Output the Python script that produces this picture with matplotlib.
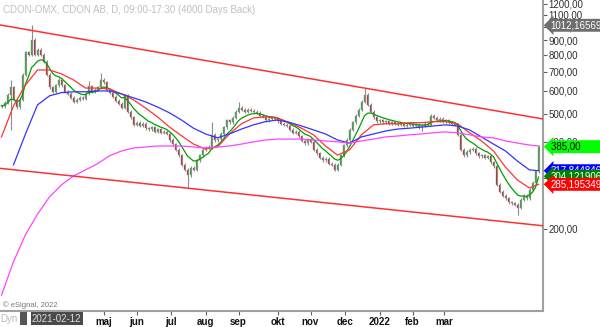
import matplotlib
matplotlib.use('Agg')
import matplotlib.pyplot as plt
import matplotlib.transforms as mtransforms
from matplotlib.patches import Rectangle
from matplotlib.ticker import FixedLocator, FixedFormatter, NullLocator
import numpy as np
import pandas as pd

plt.rcParams['font.family'] = ['Liberation Sans', 'DejaVu Sans']

title = 'CDON-OMX, CDON AB, D, 09:00-17:30 (4000 Days Back)'

# daily closes (one entry per bar)
closes = [532, 546, 581, 617, 559, 528, 559, 682, 818, 799,
          901, 799, 832, 799, 756, 682, 617, 596, 629, 655,
          629, 596, 586, 568, 550, 559, 568, 563, 586, 624,
          596, 605, 617, 655, 643, 605, 592, 572, 554, 541,
          524, 577, 508, 486, 458, 466, 454, 462, 446, 442,
          450, 434, 442, 430, 434, 426, 406, 393, 375, 360,
          333, 320, 307, 325, 320, 346, 360, 375, 381, 384,
          423, 406, 409, 426, 450, 476, 467, 484, 508, 524,
          516, 508, 516, 512, 508, 504, 492, 488, 476, 480,
          484, 480, 472, 462, 458, 454, 440, 430, 434, 419,
          403, 396, 409, 400, 375, 366, 353, 346, 350, 336,
          333, 320, 333, 360, 390, 406, 440, 467, 492, 516,
          550, 581, 537, 508, 486, 472, 476, 467, 472, 462,
          467, 462, 458, 462, 454, 458, 462, 454, 458, 450,
          454, 462, 458, 492, 484, 476, 480, 472, 476, 467,
          462, 458, 423, 375, 360, 369, 375, 378, 366, 357,
          360, 353, 357, 340, 330, 284, 269, 260, 255, 247,
          245, 242, 237, 252, 260, 255, 273, 289, 316, 385]

# bars with long wicks
wick_high = {3: 655, 10: 1012.17, 29: 650, 33: 690, 70: 470, 79: 550, 121: 615}
wick_low = {3: 440, 62: 277, 140: 435, 172: 224}

# slower moving averages, sampled every 4 bars
ma_bars = list(range(0, 177, 4)) + [179]
red_ma = [416, 533, 629, 709, 709, 687, 655, 614, 614, 610,
          586, 559, 524, 488, 450, 420, 393, 378, 384, 426,
          462, 484, 488, 484, 466, 446, 423, 387, 360, 375,
          423, 458, 462, 462, 466, 466, 470, 470, 462, 430,
          403, 372, 327, 295, 277, 285.195349]
blue_ma = [np.nan, 333, 426, 537, 577, 592, 596, 596, 600, 600,
           586, 568, 550, 528, 504, 476, 446, 426, 413, 426,
           443, 458, 470, 476, 467, 454, 440, 426, 406, 396,
           416, 426, 436, 443, 446, 450, 454, 458, 454, 440,
           416, 393, 372, 343, 320, 317.844846]
magenta_ma = [118, 154, 191, 225, 258, 284, 305, 320, 336, 358,
              372, 381, 384, 387, 387, 387, 384, 381, 384, 387,
              393, 400, 406, 409, 409, 409, 406, 403, 400, 396,
              403, 409, 416, 419, 423, 426, 430, 433, 430, 423,
              416, 413, 403, 396, 390, 387]

# trend channel end points
chan_bars = [-0.5, 180.5]
chan_upper = [1015, 480]
chan_lower = [324, 205]

month_pos = [34, 45, 56.5, 68, 79, 92, 103, 114.5, 126, 137, 147.5]
month_labels = ['maj', 'jun', 'jul', 'aug', 'sep', 'okt', 'nov', 'dec', '2022', 'feb', 'mar']

y_ticks = [200, 300, 400, 500, 600, 700, 800, 900, 1000, 1100, 1200]

tags = [(1012.16569, '1012,16569', '#6e6e6e', 'white'),
        (385.0, '385,00        ', '#00ff00', 'black'),
        (317.844846, '317,844846', '#0000ff', 'white'),
        (304.121906, '304,121906', '#008000', 'white'),
        (285.195349, '285,195349', '#ff0000', 'white')]

fig = plt.figure(figsize=(6, 3.27), dpi=100)
ax = fig.add_axes([0, 1 - 311 / 327, 543 / 600, 311 / 327])
ax.set_yscale('log')
ax.set_ylim(104, 1238)
ax.set_xlim(-0.5, 180.5)

x = np.arange(len(closes))
c = np.array(closes, dtype=float)
o = np.concatenate([[c[0]], c[:-1]])
hi = np.maximum(o, c) * 1.012
lo = np.minimum(o, c) * 0.988
for k, v in wick_high.items():
    hi[k] = v
for k, v in wick_low.items():
    lo[k] = v

ax.vlines(x, lo, hi, color='#8c8c8c', lw=0.8, zorder=2)
up = c >= o
body_lo = np.minimum(o, c)
body_h = np.maximum(np.abs(c - o), c * 0.006)
ax.bar(x[up], body_h[up], bottom=body_lo[up], width=0.6, color='#00c000',
       edgecolor='#909090', linewidth=0.3, zorder=3)
ax.bar(x[~up], body_h[~up], bottom=body_lo[~up], width=0.6, color='#d80000',
       edgecolor='#909090', linewidth=0.3, zorder=3)

green_ma = pd.Series(c).ewm(span=8, adjust=False).mean()
ax.plot(x, green_ma, color='#00a000', lw=0.9, zorder=4)
ax.plot(ma_bars, red_ma, color='#ff3333', lw=0.9, zorder=4)
ax.plot(ma_bars, blue_ma, color='#3333ff', lw=0.9, zorder=4)
ax.plot(ma_bars, magenta_ma, color='#ff44ff', lw=0.9, zorder=4)

ax.plot(chan_bars, chan_upper, color='#ff3030', lw=1.1, zorder=4)
ax.plot(chan_bars, chan_lower, color='#ff3030', lw=1.1, zorder=4)

for side in ['left', 'top']:
    ax.spines[side].set_visible(False)
for side in ['right', 'bottom']:
    ax.spines[side].set_color('#a0a0a0')
    ax.spines[side].set_linewidth(1.5)

ax.yaxis.tick_right()
ax.yaxis.set_major_locator(FixedLocator(y_ticks))
ax.yaxis.set_major_formatter(FixedFormatter(['%d,00' % v for v in y_ticks]))
ax.yaxis.set_minor_locator(NullLocator())
ax.tick_params(axis='y', which='major', direction='out', length=3, width=0.8,
               color='#606060', labelsize=7, labelcolor='#303030', pad=1)

ax.xaxis.set_major_locator(FixedLocator(month_pos))
ax.xaxis.set_major_formatter(FixedFormatter(month_labels))
ax.xaxis.set_minor_locator(NullLocator())
ax.tick_params(axis='x', direction='out', length=3, width=0.8, color='#606060',
               labelsize=7, labelcolor='#111111', pad=1)
for t in ax.get_xticklabels():
    t.set_fontweight('bold')

trans = mtransforms.blended_transform_factory(ax.transAxes, ax.transData)
for val, txt, face, fg in tags:
    ax.text(1.014, val, txt, transform=trans, fontsize=7, color=fg, va='center',
            ha='left', clip_on=False, zorder=10,
            bbox=dict(boxstyle='larrow,pad=0.15', facecolor=face, edgecolor='none'))

ax.text(0.005, 0.985, title, transform=ax.transAxes, fontsize=7, color='#c0c0c0',
        va='top', ha='left')
ax.text(0.005, 0.008, '\u00a9 eSignal, 2022', transform=ax.transAxes, fontsize=5.5,
        color='#777777', va='bottom', ha='left')

fig.text(0.0, 0.025, 'Dyn', fontsize=7, color='#b8b8b8', ha='left', va='center')
fig.patches.append(Rectangle((20 / 600, 0.005), 7 / 600, 0.04, transform=fig.transFigure,
                             facecolor='#555555', edgecolor='none'))
fig.text(32 / 600, 0.025, '2021-02-12', fontsize=7, color='#dddddd', ha='left', va='center',
         bbox=dict(boxstyle='square,pad=0.15', facecolor='#4a4a4a', edgecolor='none'))

plt.savefig('out.png', dpi=100)
